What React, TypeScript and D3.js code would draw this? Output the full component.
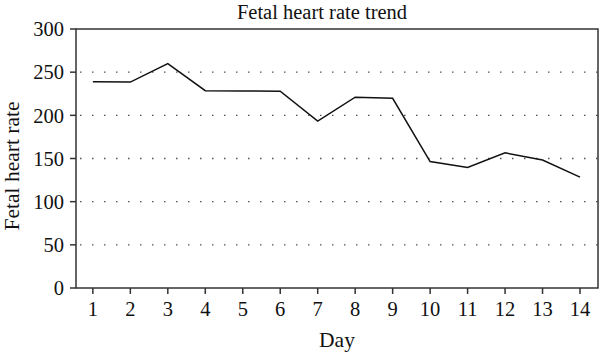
import React from "react";
import * as d3 from "d3";

const days = [1, 2, 3, 4, 5, 6, 7, 8, 9, 10, 11, 12, 13, 14];
const heartRate = [239, 238.5, 260, 228.5, 228.2, 228, 193.4, 221, 219.7, 146.5, 139.5, 156.5, 148.3, 128.5];
const yTicks = [0, 50, 100, 150, 200, 250, 300];
const gridTicks = [50, 100, 150, 200, 250];
const title = "Fetal heart rate trend";
const xLabel = "Day";
const yLabel = "Fetal heart rate";

const W = 600;
const H = 355;
const left = 76;
const right = 598;
const top = 29;
const bottom = 288;
const font = "'Liberation Serif', 'DejaVu Serif', serif";

export default function App() {
  const x = d3.scaleLinear().domain([0.55, 14.48]).range([left, right]);
  const y = d3.scaleLinear().domain([0, 300]).range([bottom, top]);
  const line = d3
    .line<number>()
    .x((_, i) => x(days[i]))
    .y((d) => y(d));

  return (
    <svg
      width={W}
      height={H}
      style={{ position: "absolute", left: 0, top: 0, background: "#fff" }}
      fontFamily={font}
    >
      <rect x={0} y={0} width={W} height={H} fill="#fff" />
      {gridTicks.map((t) => (
        <line
          key={"g" + t}
          x1={left + 4}
          x2={right}
          y1={y(t)}
          y2={y(t)}
          stroke="#555"
          strokeWidth={1.3}
          strokeDasharray="1.5 10.5"
        />
      ))}
      <path d={line(heartRate) || ""} fill="none" stroke="#111" strokeWidth={1.5} strokeLinejoin="miter" />
      <rect x={left} y={top} width={right - left} height={bottom - top} fill="none" stroke="#333" strokeWidth={1.5} />
      {yTicks.map((t) => (
        <g key={"y" + t}>
          <line x1={left - 6} x2={left} y1={y(t)} y2={y(t)} stroke="#333" strokeWidth={1.5} />
          <text x={left - 12} y={y(t)} dy="0.35em" textAnchor="end" fontSize={20.5} fill="#111">
            {t}
          </text>
        </g>
      ))}
      {days.map((d) => (
        <g key={"x" + d}>
          <line x1={x(d)} x2={x(d)} y1={bottom} y2={bottom + 6} stroke="#333" strokeWidth={1.5} />
          <text x={x(d)} y={316} textAnchor="middle" fontSize={20.5} fill="#111">
            {d}
          </text>
        </g>
      ))}
      <text x={322} y={18.5} textAnchor="middle" fontSize={20.5} fill="#111">
        {title}
      </text>
      <text x={337} y={347} textAnchor="middle" fontSize={21.5} fill="#111">
        {xLabel}
      </text>
      <text
        transform={`translate(19, 166) rotate(-90)`}
        textAnchor="middle"
        fontSize={21.5}
        fill="#111"
      >
        {yLabel}
      </text>
    </svg>
  );
}
